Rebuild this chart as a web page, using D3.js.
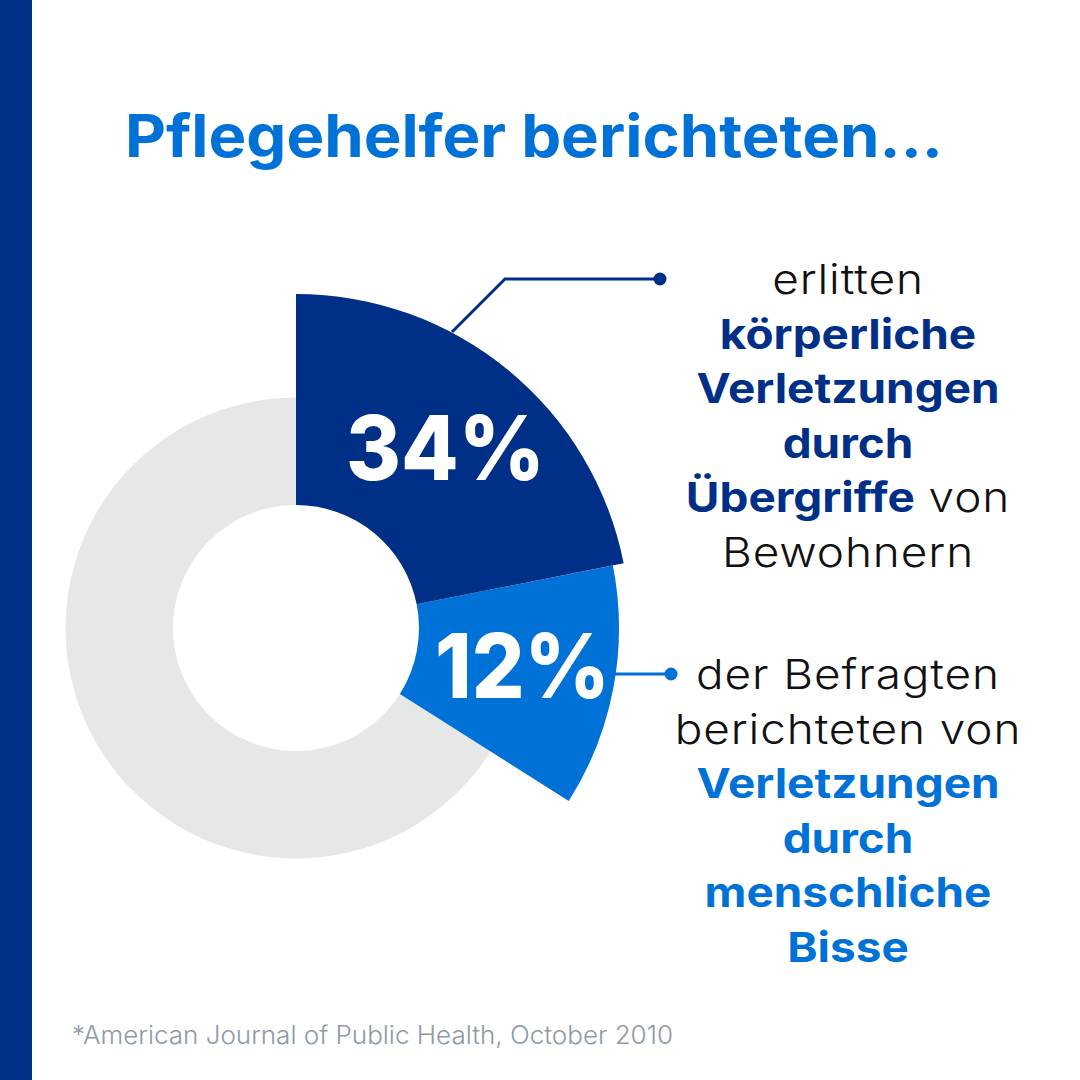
<!DOCTYPE html>
<html>
<head>
<meta charset="utf-8">
<script src="https://cdn.jsdelivr.net/npm/d3@7"></script>
<style>
  html, body { margin: 0; padding: 0; background: #fff; }
  text { font-family: "Inter", "Noto Sans", sans-serif; }
</style>
</head>
<body>
<div id="chart"></div>
<script>
const width = 1080;
const height = 1080;

// data
const categories = ["koerperlich", "bisse", "rest"];
const sliceValues = [21.9, 12.1, 66]; // the light slice ends at 34 % of the circle
const sliceLabels = ["34%", "12%", ""];
const titleText = "Pflegehelfer berichteten...";
const sourceText = "*American Journal of Public Health, October 2010";
const noteInjury = [
  [["erlitten", 0]],
  [["körperliche", 1]],
  [["Verletzungen", 1]],
  [["durch", 1]],
  [["Übergriffe", 1], [" von", 0]],
  [["Bewohnern", 0]],
];
const noteBites = [
  [["der Befragten", 0]],
  [["berichteten von", 0]],
  [["Verletzungen", 1]],
  [["durch", 1]],
  [["menschliche", 1]],
  [["Bisse", 1]],
];

const navy = "#002f87";
const blue = "#0071d6";
const grey = "#e6e7e7";
const ink = "#111";

const cx = 296, cy = 628;
const innerR = 123;
const outerR = { koerperlich: 334, bisse: 323, rest: 230.5 };
const sliceColor = d3.scaleOrdinal().domain(categories).range([navy, blue, grey]);

const svg = d3.select("#chart").append("svg")
  .attr("width", width)
  .attr("height", height)
  .style("display", "block");

svg.append("rect").attr("width", width).attr("height", height).attr("fill", "#fff");
svg.append("rect").attr("width", 32).attr("height", height).attr("fill", navy);

svg.append("text")
  .attr("x", 125).attr("y", 157)
  .attr("font-size", 59).attr("font-weight", 700)
  .attr("fill", blue)
  .attr("textLength", 818)
  .attr("lengthAdjust", "spacingAndGlyphs")
  .text(titleText);

// Donut
const pie = d3.pie().sort(null).value((d) => d.value);
const slices = pie(categories.map((c, i) => ({ cat: c, value: sliceValues[i], label: sliceLabels[i] })));
const arc = d3.arc().innerRadius(innerR).outerRadius((d) => outerR[d.data.cat]);

const donut = svg.append("g").attr("transform", `translate(${cx},${cy})`);

// grey goes underneath
donut.selectAll("path")
  .data(slices.slice().reverse())
  .join("path")
  .attr("d", arc)
  .attr("fill", (d) => sliceColor(d.data.cat));

// Leader lines
const leader = d3.line();
svg.append("path")
  .attr("d", leader([[452, 332], [505, 279], [659, 279]]))
  .attr("fill", "none").attr("stroke", navy).attr("stroke-width", 3);
svg.append("circle").attr("cx", 660).attr("cy", 279).attr("r", 6.5).attr("fill", navy);
svg.append("path")
  .attr("d", leader([[610, 674], [671, 674]]))
  .attr("fill", "none").attr("stroke", blue).attr("stroke-width", 3);
svg.append("circle").attr("cx", 671).attr("cy", 674).attr("r", 6.5).attr("fill", blue);

// Big percentages
const labelPos = [[346, 480, 199], [435, 698, 175]];
slices.filter((d) => d.data.label).forEach((d, i) => {
  svg.append("text")
    .attr("x", labelPos[i][0]).attr("y", labelPos[i][1])
    .attr("font-size", 89).attr("font-weight", 800)
    .attr("fill", "#fff")
    .attr("textLength", labelPos[i][2])
    .attr("lengthAdjust", "spacingAndGlyphs")
    .text(d.data.label);
});

// Side notes, stretched a bit because the original face is wider
function drawNote(lines, y0, strong) {
  lines.forEach((runs, i) => {
    const t = svg.append("text")
      .attr("transform", `translate(848,${y0 + i * 54.6}) scale(1.12,1)`)
      .attr("text-anchor", "middle")
      .attr("font-size", 41);
    runs.forEach(([s, bold]) => {
      t.append("tspan")
        .attr("font-weight", bold ? 700 : 300)
        .attr("letter-spacing", bold ? 0 : 0.8)
        .attr("fill", bold ? strong : ink)
        .style("white-space", "pre")
        .text(s);
    });
  });
}
drawNote(noteInjury, 294, navy);
drawNote(noteBites, 689, blue);

svg.append("text")
  .attr("x", 72).attr("y", 1044)
  .attr("font-size", 25).attr("font-weight", 300)
  .attr("fill", "#8d9aa7")
  .attr("textLength", 601)
  .attr("lengthAdjust", "spacingAndGlyphs")
  .text(sourceText);
</script>
</body>
</html>
